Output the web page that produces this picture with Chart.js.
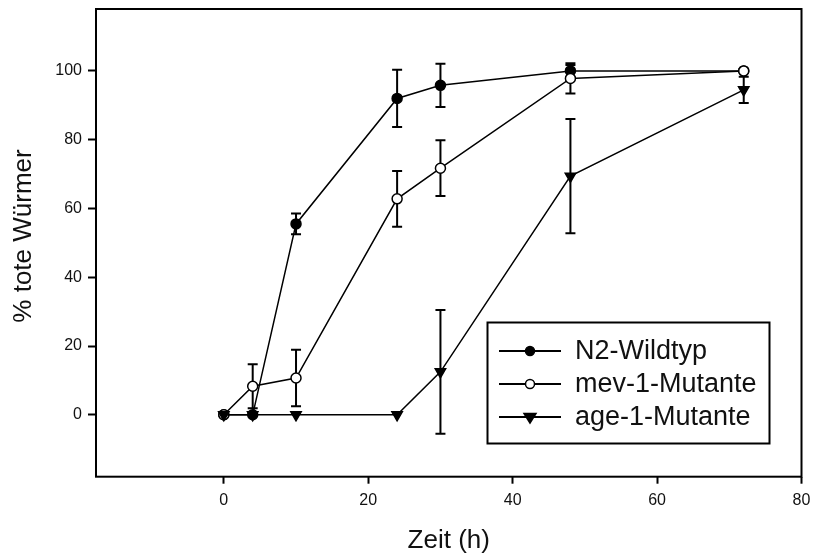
<!DOCTYPE html>
<html>
<head>
<meta charset="utf-8">
<script src="https://cdn.jsdelivr.net/npm/chart.js@4.4.1/dist/chart.umd.min.js"></script>
<style>
html,body{margin:0;padding:0;background:#fff;}
#wrap{width:814px;height:556px;}
</style>
</head>
<body>
<div id="wrap"><canvas id="c" width="814" height="556"></canvas></div>
<script>
// ---- data ----
const hours = [0, 4, 10, 24, 30, 48, 72];
const seriesNames = ["N2-Wildtyp", "mev-1-Mutante", "age-1-Mutante"];
const n2Values  = [0, 0, 55.5, 92.0, 95.8, 100.0, 100.0];
const n2Errors  = [0, 0, 3.0, 8.3, 6.3, 1.7, 0];
const mevValues = [0, 8.3, 10.7, 62.8, 71.7, 97.8, 100.0];
const mevErrors = [0, 6.4, 8.2, 8.1, 8.1, 4.4, 0];
const ageValues = [0, 0, 0, 0, 12.5, 69.4, 94.5];
const ageErrors = [0, 0, 0, 0, 18.0, 16.6, 3.8];
const xTicks = [0, 20, 40, 60, 80];
const yTicks = [0, 20, 40, 60, 80, 100];
const xTitle = "Zeit (h)";
const yTitle = "% tote Würmer";

const FONT = "'Liberation Sans', Arial, Helvetica, sans-serif";
const toPts = (vals) => hours.map((h, i) => ({x: h, y: vals[i]}));
const errorSets = [n2Errors, mevErrors, ageErrors];

const errorBarPlugin = {
  id: 'errorBars',
  beforeDatasetsDraw(chart) {
    const ctx = chart.ctx;
    const xs = chart.scales.x, ys = chart.scales.y;
    ctx.save();
    ctx.strokeStyle = '#000';
    ctx.lineWidth = 2;
    chart.data.datasets.forEach((ds, di) => {
      const errs = errorSets[di];
      ds.data.forEach((p, i) => {
        const e = errs[i];
        if (!e) return;
        const px = xs.getPixelForValue(p.x);
        const yt = ys.getPixelForValue(p.y + e);
        const yb = ys.getPixelForValue(p.y - e);
        ctx.beginPath();
        ctx.moveTo(px, yt); ctx.lineTo(px, yb);
        ctx.moveTo(px - 5, yt); ctx.lineTo(px + 5, yt);
        ctx.moveTo(px - 5, yb); ctx.lineTo(px + 5, yb);
        ctx.stroke();
      });
    });
    ctx.restore();
  }
};

const framePlugin = {
  id: 'frame',
  afterDraw(chart) {
    const {ctx, chartArea: a} = chart;
    ctx.save();
    ctx.strokeStyle = '#000';
    ctx.lineWidth = 2;
    ctx.strokeRect(a.left, a.top, a.right - a.left, a.bottom - a.top);
    // y-axis title
    ctx.translate(24, 236);
    ctx.rotate(-Math.PI / 2);
    ctx.fillStyle = '#111';
    ctx.font = '26px ' + FONT;
    ctx.textAlign = 'center';
    ctx.textBaseline = 'middle';
    ctx.fillText(yTitle, 0, 0);
    ctx.restore();
  }
};

function drawMarker(ctx, style, filled, r, x, y) {
  ctx.beginPath();
  if (style === 'triangleDown') {
    ctx.moveTo(x - r, y - r * 0.6);
    ctx.lineTo(x + r, y - r * 0.6);
    ctx.lineTo(x, y + r * 1.0);
    ctx.closePath();
  } else {
    ctx.arc(x, y, r, 0, Math.PI * 2);
  }
  ctx.fillStyle = filled ? '#000' : '#fff';
  ctx.fill();
  ctx.lineWidth = 1.5;
  ctx.strokeStyle = '#000';
  ctx.stroke();
}

const legendPlugin = {
  id: 'boxLegend',
  afterDraw(chart) {
    const ctx = chart.ctx;
    const bx = 487.5, by = 322.5, bw = 282, bh = 121;
    ctx.save();
    ctx.strokeStyle = '#000';
    ctx.lineWidth = 2;
    ctx.strokeRect(bx, by, bw, bh);
    const rows = [351, 384, 417];
    const styles = [['circle', true, 4.5], ['circle', false, 4.5], ['triangleDown', true, 6]];
    chart.data.datasets.forEach((ds, i) => {
      const y = rows[i];
      ctx.beginPath();
      ctx.lineWidth = 2;
      ctx.strokeStyle = '#000';
      ctx.moveTo(499, y); ctx.lineTo(561, y);
      ctx.stroke();
      drawMarker(ctx, styles[i][0], styles[i][1], styles[i][2], 530, y);
      ctx.fillStyle = '#111';
      ctx.font = '27px ' + FONT;
      ctx.textBaseline = 'middle';
      ctx.textAlign = 'left';
      ctx.fillText(ds.label, 575, y + 1);
    });
    ctx.restore();
  }
};

const common = {
  borderColor: '#000',
  borderWidth: 1.5,
  showLine: true,
  tension: 0,
  pointBorderColor: '#000',
  pointBorderWidth: 1.5,
};

new Chart(document.getElementById('c'), {
  type: 'scatter',
  data: {
    datasets: [
      Object.assign({}, common, {label: seriesNames[0], data: toPts(n2Values),
        pointStyle: 'circle', pointRadius: 5, pointBackgroundColor: '#000', order: 3}),
      Object.assign({}, common, {label: seriesNames[1], data: toPts(mevValues),
        pointStyle: 'circle', pointRadius: 5, pointBackgroundColor: '#fff', order: 2}),
      Object.assign({}, common, {label: seriesNames[2], data: toPts(ageValues),
        pointStyle: 'triangle', pointRotation: 180, pointRadius: 6, pointBackgroundColor: '#000', order: 1}),
    ]
  },
  options: {
    responsive: false,
    animation: false,
    events: [],
    layout: {padding: {left: 0, top: 9, right: 12.5, bottom: 0}},
    plugins: {legend: {display: false}, tooltip: {enabled: false}},
    scales: {
      x: {
        type: 'linear', min: -17.7, max: 80,
        afterBuildTicks: (s) => { s.ticks = xTicks.map(v => ({value: v})); },
        afterFit: (s) => { s.height = 79.3; s.paddingLeft = 0; s.paddingRight = 0; },
        grid: {display: true, drawOnChartArea: false, drawTicks: true, tickLength: 7, tickWidth: 2, tickColor: '#000'},
        border: {display: false},
        ticks: {font: {family: FONT, size: 16}, color: '#111', padding: 7, maxRotation: 0},
        title: {display: true, text: xTitle, font: {family: FONT, size: 26}, color: '#111', padding: {top: 0, bottom: 0}}
      },
      y: {
        type: 'linear', min: -18, max: 118,
        afterBuildTicks: (s) => { s.ticks = yTicks.map(v => ({value: v})); },
        afterFit: (s) => { s.width = 96; s.paddingTop = 0; s.paddingBottom = 0; },
        grid: {display: true, drawOnChartArea: false, drawTicks: true, tickLength: 8, tickWidth: 2, tickColor: '#000'},
        border: {display: false},
        ticks: {font: {family: FONT, size: 16}, color: '#111', padding: 6},
        title: {display: false}
      }
    }
  },
  plugins: [errorBarPlugin, framePlugin, legendPlugin]
});
</script>
</body>
</html>
